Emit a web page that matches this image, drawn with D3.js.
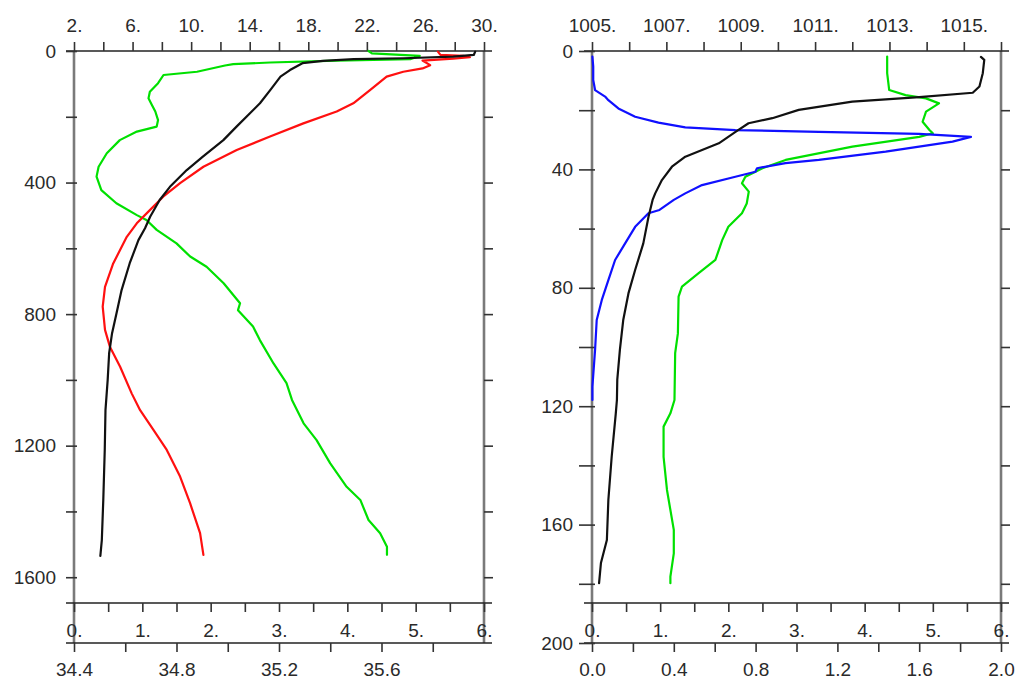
<!DOCTYPE html>
<html>
<head>
<meta charset="utf-8">
<script src="https://cdn.jsdelivr.net/npm/d3@7/dist/d3.min.js"></script>
<style>
  html, body { margin: 0; padding: 0; background: #fff; }
  svg { display: block; }
  text { font-family: "Liberation Sans", Arial, Helvetica, sans-serif; font-size: 19px; fill: #2a2a2a; }
</style>
</head>
<body>
<svg id="chart" width="1019" height="680"></svg>
<script>
// ---------------- DATA ----------------
// Left panel (depth 0..1800 m)
const leftTopTicks = [2,4,6,8,10,12,14,16,18,20,22,24,26,28,30];
const leftTopLabels = [2,6,10,14,18,22,26,30];
const midTicks = [0,0.5,1,1.5,2,2.5,3,3.5,4,4.5,5,5.5,6];
const midLabels = [0,1,2,3,4,5,6];
const salTicks = [34.4,34.6,34.8,35.0,35.2,35.4,35.6,35.8];
const salLabels = [34.4,34.8,35.2,35.6];
const leftDepthTicks = [0,200,400,600,800,1000,1200,1400,1600];
const leftDepthLabels = [0,400,800,1200,1600];
const leftRightTicks = [200,400,600,800,1000,1200,1400,1600];

// black: temperature (top axis)
const tempDepth = [2,12,17,22,25,30,37,58,78,119,159,190,230,271,321,362,413,453,504,539,575,646,727,798,858,919,1000,1092,1213,1365,1487,1535];
const tempValue = [29.4,29.3,27.9,24.5,21.1,19.0,17.6,16.75,16.1,15.4,14.7,14.0,13.1,12.2,10.8,9.7,8.55,7.85,7.2,6.85,6.4,5.8,5.25,4.9,4.6,4.4,4.3,4.15,4.1,4.0,3.9,3.8];
// red: salinity (lower bottom axis)
const salDepth = [2,12,15,19,23,29,43,53,63,78,119,159,184,220,260,301,352,402,443,483,524,565,646,717,777,848,899,960,1041,1092,1152,1213,1294,1375,1466,1532];
const salValue = [35.82,35.83,35.92,35.945,35.88,35.76,35.79,35.76,35.685,35.62,35.555,35.49,35.425,35.295,35.165,35.035,34.905,34.814,34.748,34.697,34.645,34.606,34.553,34.521,34.512,34.521,34.54,34.58,34.625,34.658,34.71,34.762,34.814,34.853,34.892,34.905];
// green: oxygen (upper bottom axis 0..6)
const oxyDepth = [0,7,15,25,29,35,40,44,63,73,98,124,144,164,184,210,230,245,271,311,352,382,423,463,499,514,544,585,625,656,706,767,788,838,879,950,1010,1061,1132,1183,1254,1325,1365,1426,1466,1507,1532];
const oxyValue = [4.31,4.36,5.06,4.92,3.84,2.87,2.33,2.21,1.80,1.31,1.23,1.11,1.09,1.14,1.19,1.23,1.21,0.92,0.67,0.48,0.36,0.33,0.40,0.62,0.92,1.06,1.21,1.50,1.70,1.94,2.19,2.43,2.40,2.62,2.72,2.92,3.11,3.19,3.36,3.55,3.75,3.99,4.19,4.31,4.48,4.58,4.58];

// Right panel (depth 0..200 m)
const rightTopTicks = [1005,1006,1007,1008,1009,1010,1011,1012,1013,1014,1015,1016];
const rightTopLabels = [1005,1007,1009,1011,1013,1015];
const lowTicks = [0,0.2,0.4,0.6,0.8,1.0,1.2,1.4,1.6,1.8,2.0];
const lowLabels = [0,0.4,0.8,1.2,1.6,2.0];
const rightDepthTicks = [0,20,40,60,80,100,120,140,160,180,200];
const rightDepthLabels = [0,40,80,120,160,200];
const rightRightTicks = [20,40,60,80,100,120,140,160,180];

// black: top axis (1005..1016)
const rBlackDepth = [2,3,7.5,12,14.1,15.6,17.1,19.9,22.7,24.4,27.3,31.2,35.7,39.1,43.6,48.1,50.3,56,65,74,81.9,90.9,101,111,117.9,122.4,137,151.7,165.2,173,179.8];
const rBlackValue = [1015.46,1015.55,1015.51,1015.42,1015.24,1013.80,1012.0,1010.56,1009.85,1009.21,1008.86,1008.41,1007.51,1007.15,1006.88,1006.70,1006.63,1006.52,1006.38,1006.16,1005.98,1005.84,1005.75,1005.68,1005.67,1005.64,1005.53,1005.44,1005.40,1005.24,1005.19];
// blue: lower bottom axis (0..2)
const rBlueDepth = [1.9,5.3,9.8,13.2,15.4,16.6,19.4,22.2,24.2,25.8,26.7,27.3,28,29,30.6,34,36.8,37.9,39.6,40.8,42.5,45.3,48.1,50.3,53.7,54.8,59.4,65,70.6,77.4,84.1,90.9,101,113.4,117.9];
const rBlueValue = [0.002,0.006,0.006,0.015,0.064,0.08,0.129,0.211,0.325,0.456,0.701,1.109,1.600,1.853,1.763,1.436,1.109,0.946,0.807,0.799,0.701,0.538,0.456,0.40,0.33,0.276,0.211,0.162,0.113,0.08,0.048,0.023,0.015,0.002,0.002];
// green: upper bottom axis (0..6)
const rGreenDepth = [1.9,7.5,13.2,14.9,16,17.7,20.5,23.9,26.7,27.8,29,32.3,36.8,39.6,42.5,44.7,47.5,51.5,54.8,59.4,63.9,70.6,75.1,79.6,83,95.4,102.1,117.9,122.4,126.9,137.1,148.3,161.8,169.7,177.6,179.8];
const rGreenValue = [4.33,4.33,4.36,4.60,4.90,5.09,4.90,4.85,4.95,5.0,4.80,3.82,2.84,2.50,2.25,2.20,2.30,2.27,2.20,2.00,1.91,1.81,1.56,1.32,1.27,1.26,1.22,1.21,1.15,1.05,1.05,1.10,1.20,1.20,1.15,1.15];

// ---------------- LAYOUT ----------------
const svg = d3.select("#chart");
const yTop = 51, yAx1 = 603, yAx2 = 643;
const GREEN = "#00e000", RED = "#ff1010", BLUE = "#1010ff", BLACK = "#111";

function fmtDot(v) { return String(Math.round(v)) + "."; }

function panel(o) {
  const g = svg.append("g");
  const x0 = o.x0, x1 = o.x1;
  const y = d3.scaleLinear().domain(o.depthDomain).range([yTop, yAx2]);
  const xTop = d3.scaleLinear().domain(o.topDomain).range([x0, x1]);
  const xMid = d3.scaleLinear().domain([0, 6]).range([x0, x1]);
  const xLow = d3.scaleLinear().domain(o.lowDomain).range([x0, x1]);

  // vertical frame lines
  g.append("line").attr("x1", x0).attr("x2", x0).attr("y1", yTop).attr("y2", yAx2)
    .attr("stroke", "#7a7a7a").attr("stroke-width", 2.6);
  g.append("line").attr("x1", x1).attr("x2", x1).attr("y1", yTop).attr("y2", yAx2)
    .attr("stroke", "#7a7a7a").attr("stroke-width", 2.6);

  // horizontal axis lines (extended)
  [yTop, yAx1, yAx2].forEach(yy => {
    g.append("line").attr("x1", x0 - 8).attr("x2", x1 + 8).attr("y1", yy).attr("y2", yy)
      .attr("stroke", "#222").attr("stroke-width", 1.5);
  });

  function styleAxis(sel) {
    sel.select(".domain").remove();
    sel.selectAll(".tick line").attr("stroke", "#333").attr("stroke-width", 1.6);
    sel.selectAll("text").attr("fill", "#2a2a2a").style("font-size", "19px")
      .style("font-family", '"Liberation Sans", Arial, sans-serif');
  }

  // top axis
  const topAx = d3.axisTop(xTop).tickValues(o.topTicks).tickSize(9).tickPadding(10)
    .tickFormat(d => o.topLabels.includes(d) ? fmtDot(d) : "");
  g.append("g").attr("transform", `translate(0,${yTop})`).call(topAx).call(styleAxis);

  // upper bottom axis 0..6
  const midAx = d3.axisBottom(xMid).tickValues(midTicks).tickSize(9).tickPadding(12)
    .tickFormat(d => midLabels.includes(d) ? fmtDot(d) : "");
  g.append("g").attr("transform", `translate(0,${yAx1})`).call(midAx).call(styleAxis);

  // lower bottom axis
  const lowAx = d3.axisBottom(xLow).tickValues(o.lowTicks).tickSize(9).tickPadding(11)
    .tickFormat(d => o.lowLabels.some(l => Math.abs(l - d) < 1e-9) ? d3.format(".1f")(d) : "");
  g.append("g").attr("transform", `translate(0,${yAx2})`).call(lowAx).call(styleAxis);

  // left depth axis
  const leftAx = d3.axisLeft(y).tickValues(o.depthTicks).tickSize(o.leftTick).tickPadding(o.leftPad)
    .tickFormat(d => o.depthLabels.includes(d) ? String(d) : "");
  const la = g.append("g").attr("transform", `translate(${x0},0)`).call(leftAx).call(styleAxis);
  la.selectAll(".tick line").attr("x2", -o.leftTick).attr("x1", 3);

  // right-side ticks
  const rightAx = d3.axisRight(y).tickValues(o.rightTicks).tickSize(9).tickFormat("");
  g.append("g").attr("transform", `translate(${x1},0)`).call(rightAx).call(styleAxis);

  // data lines
  const plot = g.append("g");
  o.series.forEach(s => {
    const xs = s.axis === "top" ? xTop : (s.axis === "mid" ? xMid : xLow);
    const pts = s.depth.map((d, i) => [s.value[i], d]);
    const line = d3.line().x(p => xs(p[0])).y(p => y(p[1]));
    plot.append("path").datum(pts).attr("d", line)
      .attr("fill", "none").attr("stroke", s.color).attr("stroke-width", 2.2)
      .attr("stroke-linejoin", "round").attr("stroke-linecap", "round");
  });
}

panel({
  x0: 74, x1: 484,
  depthDomain: [0, 1800],
  topDomain: [2, 30], topTicks: leftTopTicks, topLabels: leftTopLabels,
  lowDomain: [34.4, 36.0], lowTicks: salTicks, lowLabels: salLabels,
  depthTicks: leftDepthTicks, depthLabels: leftDepthLabels, rightTicks: leftRightTicks,
  leftTick: 8, leftPad: 10,
  series: [
    { depth: oxyDepth, value: oxyValue, axis: "mid", color: GREEN },
    { depth: salDepth, value: salValue, axis: "low", color: RED },
    { depth: tempDepth, value: tempValue, axis: "top", color: BLACK }
  ]
});

panel({
  x0: 592, x1: 1001,
  depthDomain: [0, 200],
  topDomain: [1005, 1016], topTicks: rightTopTicks, topLabels: rightTopLabels,
  lowDomain: [0, 2], lowTicks: lowTicks, lowLabels: lowLabels,
  depthTicks: rightDepthTicks, depthLabels: rightDepthLabels, rightTicks: rightRightTicks,
  leftTick: 13, leftPad: 6,
  series: [
    { depth: rGreenDepth, value: rGreenValue, axis: "mid", color: GREEN },
    { depth: rBlueDepth, value: rBlueValue, axis: "low", color: BLUE },
    { depth: rBlackDepth, value: rBlackValue, axis: "top", color: BLACK }
  ]
});
</script>
</body>
</html>
